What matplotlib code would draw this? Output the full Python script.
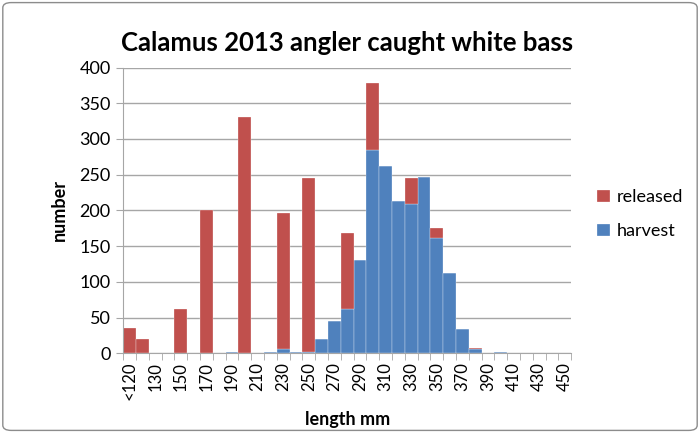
import matplotlib.pyplot as plt
import numpy as np
from matplotlib.patches import FancyBboxPatch

plt.rcParams['font.family'] = ['Lato', 'DejaVu Sans']

# length classes, 10 mm bins
lengths = ['<120'] + [str(v) for v in range(120, 460, 10)]

# counts per length class
harvest = [0, 0, 0, 0, 0, 0, 0, 0, 2, 0,
           0, 2, 6, 2, 2, 20, 45, 62, 130, 285,
           262, 213, 209, 247, 162, 113, 34, 6, 0, 2,
           0, 0, 0, 0, 0]
released = [36, 20, 0, 0, 62, 0, 200, 0, 0, 331,
            0, 0, 191, 0, 243, 0, 0, 107, 0, 93,
            0, 0, 36, 0, 14, 0, 0, 2, 0, 0,
            0, 0, 0, 0, 0]

red = '#C0504D'
blue = '#4F81BD'
grid_col = '#A6A6A6'

fig = plt.figure(figsize=(7, 4.33), dpi=100)
ax = fig.add_axes([0.176, 0.184, 0.64, 0.66])

x = np.arange(len(lengths))
ax.bar(x, harvest, width=1.0, color=blue, edgecolor='white', linewidth=0.2, label='harvest', zorder=2)
ax.bar(x, released, width=1.0, bottom=harvest, color=red, edgecolor='white', linewidth=0.2,
       label='released', zorder=2)

ax.set_xlim(-0.5, len(lengths) - 0.5)
ax.set_ylim(0, 400)
ax.set_yticks(np.arange(0, 401, 50))
ax.yaxis.grid(True, color=grid_col, linewidth=1.0, zorder=0)
ax.set_axisbelow(True)

# labels on every other class, tick marks on every bin edge
ax.set_xticks(x[::2])
ax.set_xticklabels(lengths[::2], rotation=90, fontsize=12)
ax.set_xticks(np.arange(len(lengths) + 1) - 0.5, minor=True)
ax.tick_params(axis='x', which='major', length=0, pad=6)
ax.tick_params(axis='x', which='minor', length=5, color=grid_col, direction='out')
ax.tick_params(axis='y', length=5, color=grid_col, labelsize=13, pad=4)

for s in ['top', 'right']:
    ax.spines[s].set_visible(False)
for s in ['left', 'bottom']:
    ax.spines[s].set_color(grid_col)

ax.set_title('Calamus 2013 angler caught white bass', fontsize=18.5, fontweight='bold', pad=12)
ax.set_ylabel('number', fontsize=13, fontweight='bold', labelpad=8)
ax.set_xlabel('length mm', fontsize=13, fontweight='bold', labelpad=8)

handles, labels = ax.get_legend_handles_labels()
fig.legend(handles[::-1], labels[::-1], loc='center left', bbox_to_anchor=(0.83, 0.505),
           frameon=False, fontsize=13, handlelength=0.7, handleheight=0.7,
           handletextpad=0.4, labelspacing=1.0)

# chart border
fig.patches.append(FancyBboxPatch((0.004, 0.006), 0.992, 0.988, boxstyle='round,pad=0,rounding_size=0.012',
                                  transform=fig.transFigure, fill=False, edgecolor='#8C8C8C', linewidth=1))

fig.savefig('out.png', dpi=100)
